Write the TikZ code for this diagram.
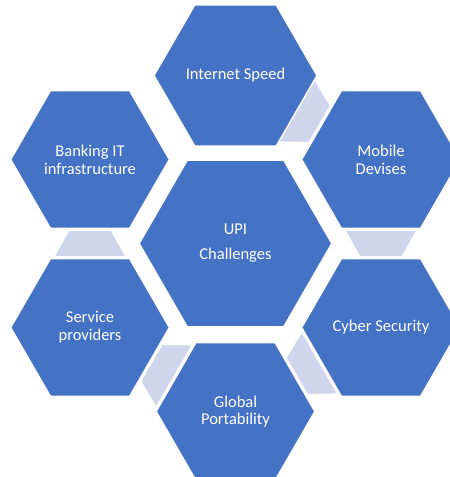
\documentclass[tikz,border=0pt]{standalone}
\usepackage{fontspec}
\setmainfont{Carlito}
\usetikzlibrary{shapes.geometric,calc}
\definecolor{hexblue}{HTML}{4472C4}
\definecolor{linkfill}{HTML}{CFD5EA}
\tikzset{
  hexbase/.style={regular polygon, regular polygon sides=6, fill=hexblue, draw=white,
    line width=0.8pt, inner sep=0pt, outer sep=0pt, text=white, align=center,
    font=\fontsize{16.5}{17.7}\selectfont},
  outerhex/.style={hexbase, minimum size=158pt},
  centerhex/.style={hexbase, minimum size=192pt},
  linkshape/.style={fill=linkfill, draw=white, line width=0.6pt}
}
\newcommand{\hexlink}[3]{% from node, to node, rotation
  \coordinate (m-#1-#2) at ($(#1)!0.5!(#2)$);
  \begin{scope}[shift={(m-#1-#2)}, rotate=#3]
    \path[linkshape] (-13,35.5) -- (-13,-35.5) -- (13,-21) -- (13,21) -- cycle;
  \end{scope}}
\begin{document}
\begin{tikzpicture}[x=1pt,y=1pt]
\clip (0,0) rectangle (450,477);
\fill[white] (0,0) rectangle (450,477);
\coordinate (c0) at (235.5,233.5);
\node[centerhex] (upi) at (c0) {UPI\\[7.3pt]Challenges};
\node[outerhex] (is) at ($(c0)+(90:168)$) {Internet Speed};
\node[outerhex] (md) at ($(c0)+(30:168)$) {Mobile\\Devises};
\node[outerhex] (cs) at ($(c0)+(-30:168)$) {Cyber Security};
\node[outerhex] (gp) at ($(c0)+(-90:168)$) {Global\\Portability};
\node[outerhex] (sp) at ($(c0)+(-150:168)$) {Service\\providers};
\node[outerhex] (bi) at ($(c0)+(150:168)$) {Banking IT\\infrastructure};
\hexlink{is}{md}{-30}
\hexlink{md}{cs}{-90}
\hexlink{cs}{gp}{-150}
\hexlink{gp}{sp}{-210}
\hexlink{sp}{bi}{-270}
\end{tikzpicture}
\end{document}
